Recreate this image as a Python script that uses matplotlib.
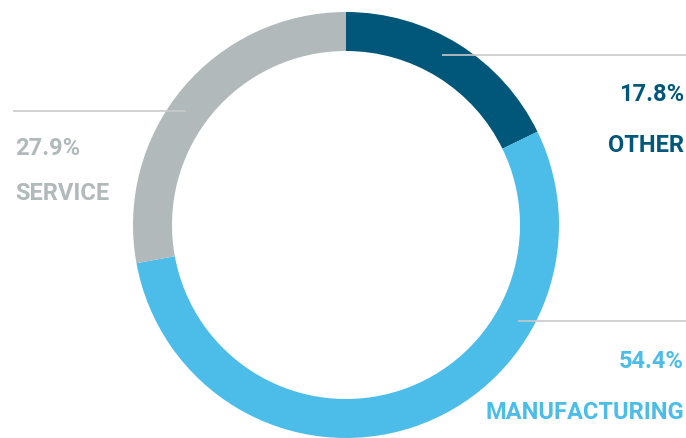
import matplotlib.pyplot as plt

# sector shares (%), clockwise from 12 o'clock
sectors = ['OTHER', 'MANUFACTURING', 'SERVICE']
shares = [17.8, 54.4, 27.9]
colors = ['#00577a', '#4bbde8', '#b1b9bb']

W, H = 686, 438
fig = plt.figure(figsize=(W / 100, H / 100), dpi=100)
ax = fig.add_axes([0, 0, 1, 1])

cx, cy, r = 346, H - 225, 213
ax.pie(shares, colors=colors, startangle=90, counterclock=False,
       center=(cx, cy), radius=r, frame=True,
       wedgeprops=dict(width=39, linewidth=0))
ax.set_xlim(0, W)
ax.set_ylim(0, H)
ax.set_aspect('equal')
ax.axis('off')

font = ['Roboto', 'DejaVu Sans']

# leader lines and labels: (line x0, x1, y), (label x, pct baseline, name baseline, ha)
layout = {
    'OTHER': ((442, W, 55), (684, 101, 152, 'right')),
    'MANUFACTURING': ((518, W, 321), (684, 368, 419, 'right')),
    'SERVICE': ((13, 186, 111), (15, 155, 200, 'left')),
}

for name, pct, col in zip(sectors, shares, colors):
    (x0, x1, ly), (tx, py, ny, ha) = layout[name]
    ax.plot([x0, x1], [H - ly, H - ly], color='#c9c9c9', lw=1.2, zorder=5,
            solid_capstyle='butt')
    ax.text(tx, H - py, f'{pct}%', color=col, ha=ha, va='baseline',
            fontsize=17, fontweight='bold', family=font)
    ax.text(tx, H - ny, name, color=col, ha=ha, va='baseline',
            fontsize=17, fontweight='bold', family=font)

fig.savefig('out.png', dpi=100)
